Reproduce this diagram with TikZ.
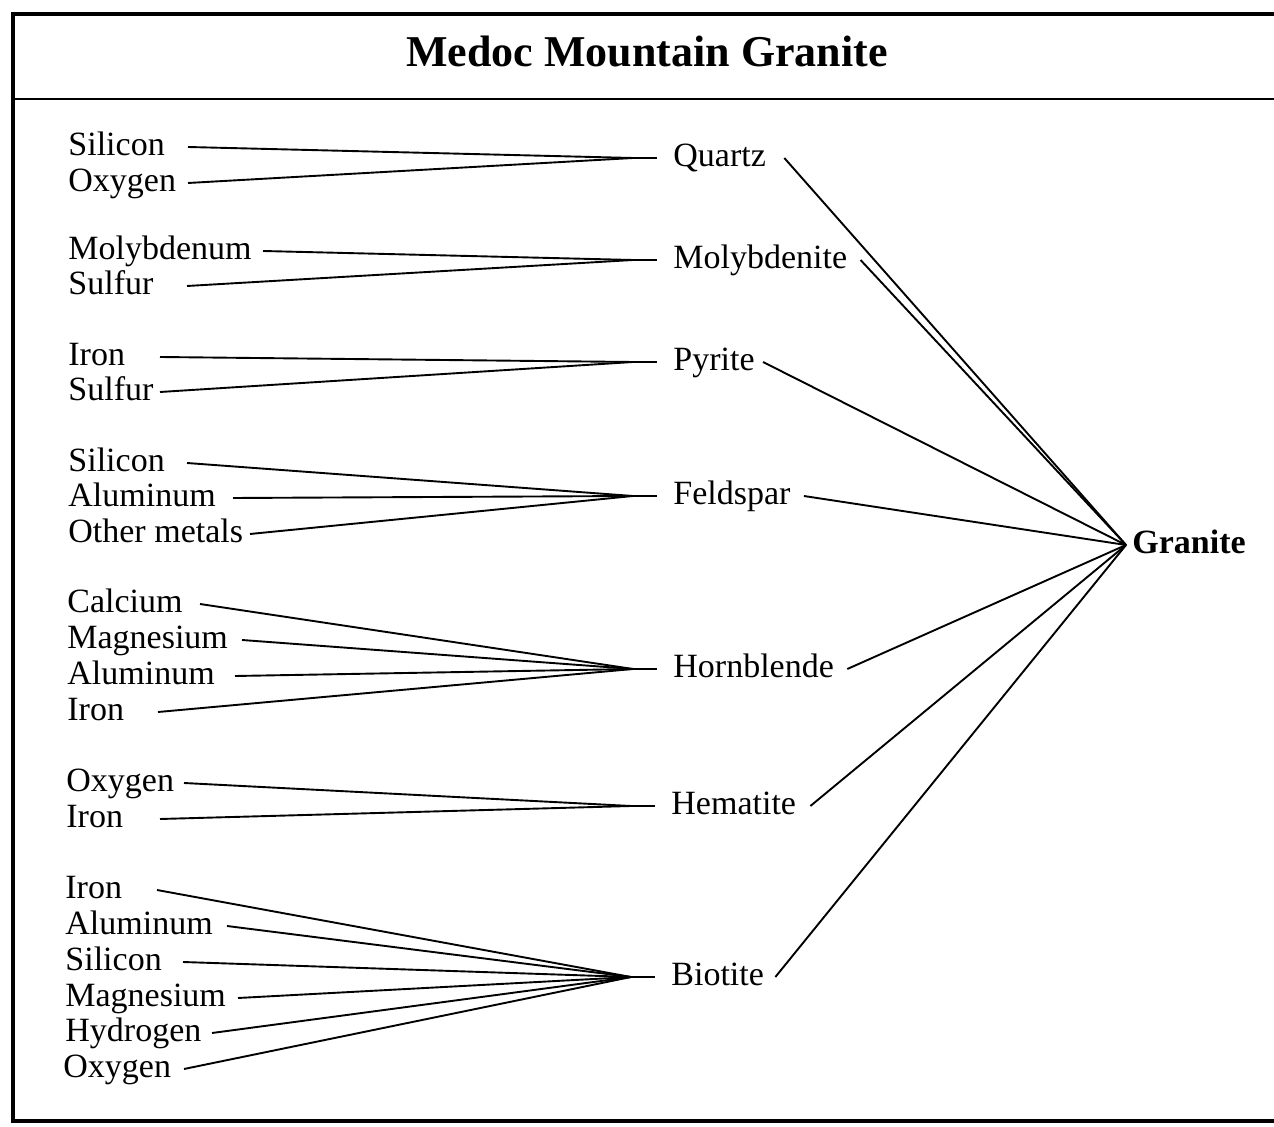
\documentclass[tikz,border=0pt]{standalone}
\usepackage{fontspec}
\setmainfont{Liberation Serif}

\begin{document}
\begin{tikzpicture}[x=0.5pt, y=-0.5pt,
	every node/.style={inner sep=0pt, text height=12pt, text depth=3.5pt, font=\fontsize{17}{20}\selectfont},
	elem/.style={anchor=west},
	mineral/.style={anchor=west},
	link/.style={line width=0.95pt, line join=round}]
	\useasboundingbox (0,0) rectangle (1274,1127);
	\clip (0,0) rectangle (1274,1127);
	% frame and title bar
	\draw[line width=2.2pt] (13,14) rectangle (1330,1121);
	\draw[line width=1pt] (13,99) -- (1330,99);
	\node[font=\fontsize{22}{26}\selectfont\bfseries, text height=16pt, text depth=4.5pt] (title) at (647,55) {Medoc Mountain Granite};
	% minerals
	\node[mineral] (quartz) at (673,158) {Quartz};
	\node[mineral] (molyb) at (673,260) {Molybdenite};
	\node[mineral] (pyrite) at (673,362) {Pyrite};
	\node[mineral] (feldspar) at (673,496) {Feldspar};
	\node[mineral] (hornbl) at (673,669) {Hornblende};
	\node[mineral] (hematite) at (671,806) {Hematite};
	\node[mineral] (biotite) at (671,977) {Biotite};
	\node[anchor=west, font=\fontsize{17}{20}\selectfont\bfseries] (granite) at (1132,545) {Granite};
	% elements
	\node[elem] (q1) at (68,147) {Silicon};
	\node[elem] (q2) at (68,183) {Oxygen};
	\node[elem] (m1) at (68,251) {Molybdenum};
	\node[elem] (m2) at (68,286) {Sulfur};
	\node[elem] (p1) at (68,357) {Iron};
	\node[elem] (p2) at (68,392) {Sulfur};
	\node[elem] (f1) at (68,463) {Silicon};
	\node[elem] (f2) at (68,498) {Aluminum};
	\node[elem] (f3) at (68,534) {Other metals};
	\node[elem] (h1) at (67,604) {Calcium};
	\node[elem] (h2) at (67,640) {Magnesium};
	\node[elem] (h3) at (67,676) {Aluminum};
	\node[elem] (h4) at (67,712) {Iron};
	\node[elem] (e1) at (66,783) {Oxygen};
	\node[elem] (e2) at (66,819) {Iron};
	\node[elem] (b1) at (65,890) {Iron};
	\node[elem] (b2) at (65,926) {Aluminum};
	\node[elem] (b3) at (65,962) {Silicon};
	\node[elem] (b4) at (65,998) {Magnesium};
	\node[elem] (b5) at (65,1033) {Hydrogen};
	\node[elem] (b6) at (63,1069) {Oxygen};
	% hubs in front of each mineral, then on to granite
	\foreach \m/\g in {quartz/9, molyb/6.5, pyrite/4, feldspar/6.5, hornbl/6.5, hematite/7, biotite/5.5} {
		\coordinate (\m hub) at ([xshift=-20pt]\m.west);
		\draw[link] (\m hub) -- ([xshift=-8pt]\m.west);
		\draw[link] ([xshift=\g pt]\m.east) -- ([xshift=-3pt]granite.west);
	}
	\foreach \e/\x/\m in {q1/188/quartz, q2/188/quartz, m1/263/molyb, m2/187/molyb,
		p1/160/pyrite, p2/160/pyrite, f1/187/feldspar, f2/233/feldspar, f3/250/feldspar,
		h1/200/hornbl, h2/242/hornbl, h3/235/hornbl, h4/158/hornbl,
		e1/184/hematite, e2/160/hematite,
		b1/157/biotite, b2/227/biotite, b3/183/biotite, b4/238/biotite, b5/212/biotite, b6/184/biotite}
		\draw[link] (\e.east -| \x,0) -- (\m hub);
\end{tikzpicture}
\end{document}
